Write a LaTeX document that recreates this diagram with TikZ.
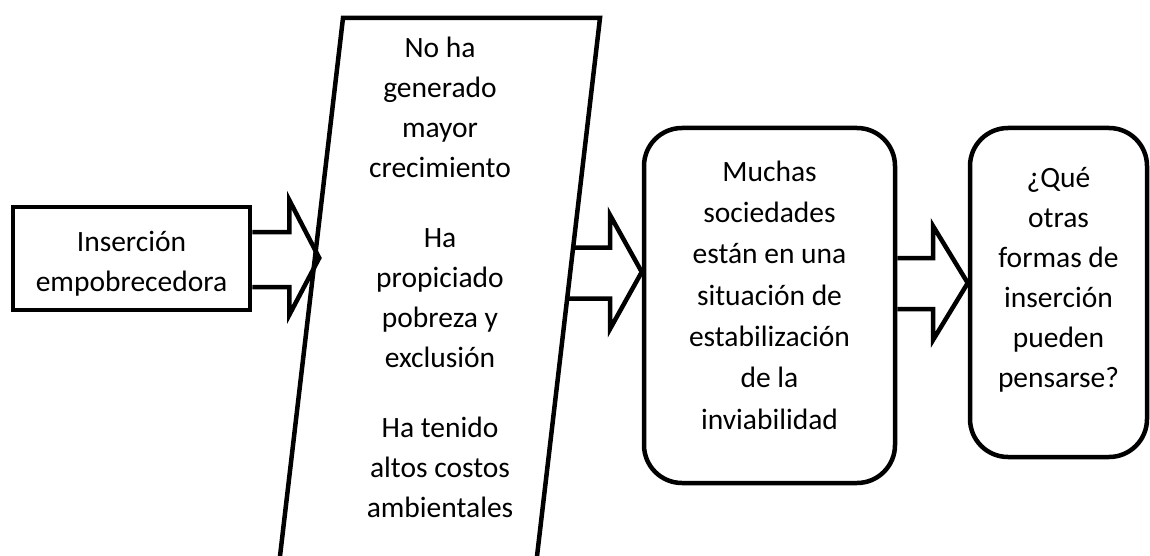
\documentclass[tikz,border=0pt]{standalone}
\usepackage{fontspec}
\setmainfont{Carlito}
\usetikzlibrary{calc}
\begin{document}
\begin{tikzpicture}[x=1pt,y=-1pt,
  outline/.style={line width=4.5pt, line join=miter, draw=black},
  boxnode/.style={outline, inner sep=0pt},
  roundbox/.style={outline, inner sep=0pt, rounded corners=38pt},
  txt/.style={align=center, font=\fontsize{29.5}{40}\selectfont, inner sep=0pt}]
\useasboundingbox (0,0) rectangle (1150,556);

% boxes
\node[boxnode, minimum width=237pt, minimum height=103pt] (b1) at (131.5,258.5) {};
\node[txt] (t1) at (131.5,264) {Inserción\\empobrecedora};

\coordinate (p1) at (343,18);
\coordinate (p2) at (600,18);
\coordinate (p3) at (534.8,575);
\coordinate (p4) at (277.8,575);
\draw[outline] (p4) -- (p1) -- (p2) -- (p3);
\node[txt] (t2) at (440,277) {No ha\\generado\\mayor\\crecimiento\\[30pt]Ha\\propiciado\\pobreza y\\exclusión\\[30pt]Ha tenido\\altos costos\\ambientales};

\node[roundbox, minimum width=251pt, minimum height=355pt] (b3) at (769.5,305.5) {};
\node[txt, font=\fontsize{29.5}{41.3}\selectfont] (t3) at (769.5,295) {Muchas\\sociedades\\están en una\\situación de\\estabilización\\de la\\inviabilidad};

\node[roundbox, minimum width=177pt, minimum height=329pt] (b4) at (1058.5,292.5) {};
\node[txt] (t4) at (1058.5,279.5) {¿Qué\\otras\\formas de\\inserción\\pueden\\pensarse?};

% block arrows
\coordinate (a1s) at ($(b1.east)+(0,-26.5)$);
\draw[outline] (a1s) -- ++(37,0) -- ++(0,-32) -- ++(30,58) -- ++(-30,57) -- ++(0,-28) -- ++(-37,0);

\coordinate (a2s) at (573,247.5);
\coordinate (a2e) at (567,298.5);
\coordinate (a2t) at (b3.west |- 0,272);
\draw[outline] (a2s) -- (610,247.5) -- (610,215) -- (a2t) -- (610,329) -- (610,298.5) -- (a2e);

\coordinate (a3s) at ($(b3.east |- 0,258)$);
\coordinate (a3t) at ($(b4.west |- 0,283)$);
\draw[outline] (a3s) -- (933,258) -- (933,226) -- (a3t) -- (933,340) -- (933,309) -- ($(b3.east |- 0,309)$);
\end{tikzpicture}
\end{document}
